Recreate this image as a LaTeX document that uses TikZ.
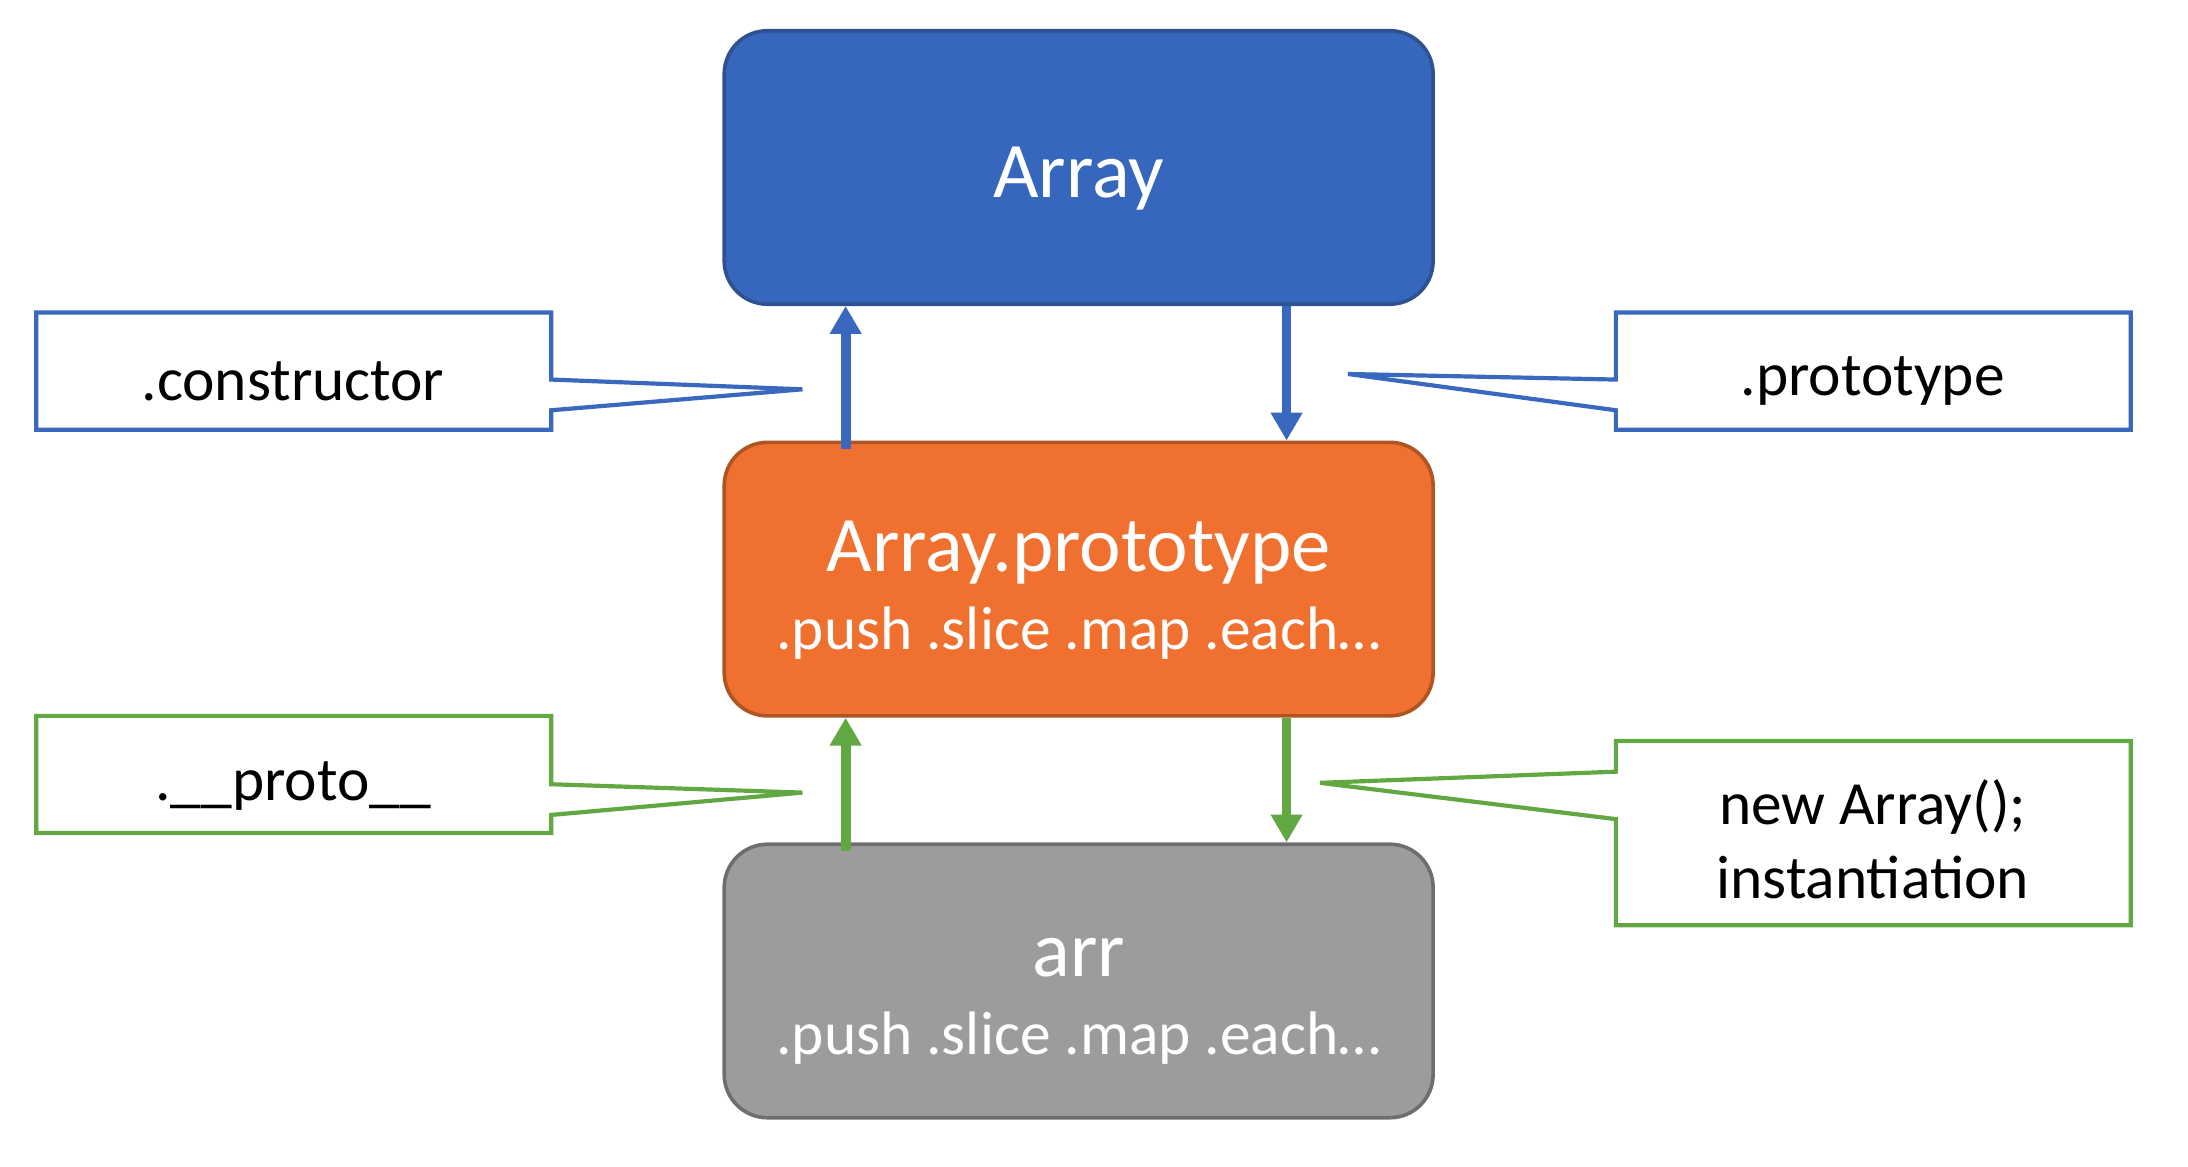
\documentclass[tikz,border=0pt]{standalone}
\usepackage{fontspec}
\setmainfont{Carlito}
\usetikzlibrary{arrows.meta}
\definecolor{bluefill}{HTML}{3767BC}
\definecolor{blueedge}{HTML}{2E5290}
\definecolor{orfill}{HTML}{F0712F}
\definecolor{oredge}{HTML}{AE5522}
\definecolor{grfill}{HTML}{9C9C9C}
\definecolor{gredge}{HTML}{6E6E6E}
\definecolor{bline}{HTML}{3A68BF}
\definecolor{gline}{HTML}{62A842}
\begin{document}
\begin{tikzpicture}[x=0.5pt,y=-0.5pt,
  mainbox/.style={draw, line width=1.3pt, rounded corners=15.5pt, minimum width=254pt, minimum height=98pt, inner sep=0pt},
  titletxt/.style={text=white, font=\fontsize{28.2}{30}\selectfont, inner sep=0pt},
  subtxt/.style={text=white, font=\fontsize{22}{26}\selectfont, inner sep=0pt},
  calltxt/.style={text=black, font=\fontsize{22}{26}\selectfont, inner sep=0pt},
  callout/.style={line width=1.5pt, fill=white, line join=miter},
  conn/.style={line width=3.5pt, -{Triangle[width=10.8pt,length=10pt]}, shorten >=0pt}
]
\useasboundingbox (0,0) rectangle (1568,836);
% main boxes
\node[mainbox, fill=bluefill, draw=blueedge] (array) at (773,120) {};
\node[mainbox, fill=orfill, draw=oredge] (proto) at (773,415) {};
\node[mainbox, fill=grfill, draw=gredge] (arr) at (773,703) {};
\node[titletxt] (arrayT) at (773,128) {Array};
\node[titletxt] (protoT) at (773,396) {Array.prototype};
\node[subtxt] (protoS) at (773,454) {.push .slice .map .each…};
\node[titletxt] (arrT) at (773,686) {arr};
\node[subtxt] (arrS) at (773,744) {.push .slice .map .each…};
% arrow columns
\coordinate (lx) at (606,0);
\coordinate (rx) at (922,0);
\draw[conn, bline] ([yshift=-3pt]lx |- proto.north) -- (lx |- array.south);
\draw[conn, bline] (rx |- array.south) -- (rx |- proto.north);
\draw[conn, gline] ([yshift=-3pt]lx |- arr.north) -- (lx |- proto.south);
\draw[conn, gline] (rx |- proto.south) -- (rx |- arr.north);
% callouts
\coordinate (ctip) at (575,279);
\coordinate (ptip) at (966,268);
\coordinate (xtip) at (575,568);
\coordinate (ntip) at (946,561);
\draw[callout, draw=bline] (26,224) -- (395,224) -- (395,272) -- (ctip) -- (395,294) -- (395,308) -- (26,308) -- cycle;
\draw[callout, draw=bline] (1527,224) -- (1158,224) -- (1158,272) -- (ptip) -- (1158,294) -- (1158,308) -- (1527,308) -- cycle;
\draw[callout, draw=gline] (26,513) -- (395,513) -- (395,562) -- (xtip) -- (395,584) -- (395,597) -- (26,597) -- cycle;
\draw[callout, draw=gline] (1527,531) -- (1158,531) -- (1158,553) -- (ntip) -- (1158,587) -- (1158,663) -- (1527,663) -- cycle;
\node[calltxt] (consT) at (210,273) {.constructor};
\node[calltxt] (protT) at (1342,273) {.prototype};
\node[calltxt] (dunT) at (210,563) {.\_\_proto\_\_};
\node[calltxt] (newT) at (1342,578) {new Array();};
\node[calltxt] (instT) at (1342,629) {instantiation};
\end{tikzpicture}
\end{document}
